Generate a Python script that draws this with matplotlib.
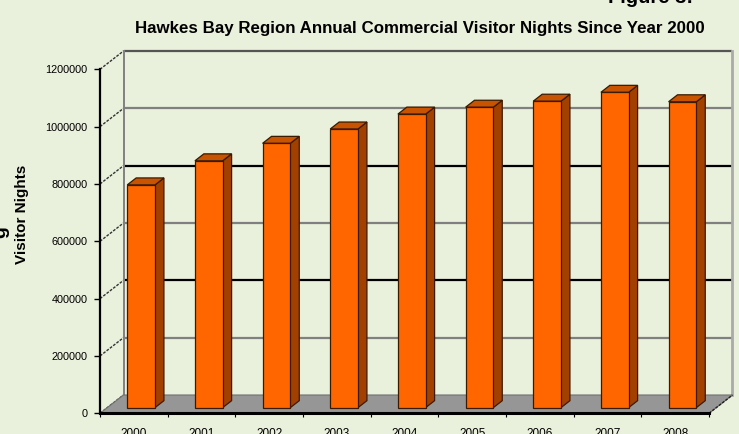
import matplotlib
matplotlib.use("Agg")
import matplotlib.pyplot as plt
from matplotlib.patches import Polygon
import numpy as np

plt.rcParams['font.family'] = ['Liberation Sans', 'DejaVu Sans']

# Annual commercial visitor nights, Hawkes Bay region
years = ['2000', '2001', '2002', '2003', '2004', '2005', '2006', '2007', '2008']
visitor_nights = [777000, 861000, 922000, 972000, 1024000, 1048000, 1069000, 1100000, 1067000]
y_ticks = [0, 200000, 400000, 600000, 800000, 1000000, 1200000]

BG = '#E9F0DB'
FRONT = '#FF6600'
TOP = '#C85300'
SIDE = '#A34000'
EDGE = '#3A1A00'

W, H = 739, 434
fig = plt.figure(figsize=(W / 100, H / 100), dpi=100, facecolor=BG)

# front plane of the 3-D box, in pixels
left_px, right_px, bottom_px, top_px = 100, 709, 413.3, 69.3
ax = fig.add_axes([left_px / W, 1 - bottom_px / H,
                   (right_px - left_px) / W, (bottom_px - top_px) / H])
ax.set_facecolor('none')
n = len(years)
ymax = y_ticks[-1]
ax.set_xlim(0, n)
ax.set_ylim(0, ymax)

# depth of the box in data units (oblique projection)
px_per_cat = (right_px - left_px) / n
px_per_val = (bottom_px - top_px) / ymax
DX = 23.5 / px_per_cat
DY = 18.3 / px_per_val

# back wall
ax.add_patch(Polygon([(DX, DY), (n + DX, DY), (n + DX, ymax + DY), (DX, ymax + DY)],
                     closed=True, facecolor=BG, edgecolor='none', clip_on=False, zorder=0))
# gridlines on the back wall and the left wall
for i, v in enumerate(y_ticks[1:]):
    c = '#808080' if i % 2 == 0 else '#000000'
    if v == ymax:
        c = '#555555'
    ax.plot([DX, n + DX], [v + DY, v + DY], color=c, lw=1.6, clip_on=False, zorder=1,
            solid_capstyle='butt')
for v in y_ticks:
    ax.plot([0, DX], [v, v + DY], color='#333333', lw=1.0, ls=(0, (2, 1)),
            clip_on=False, zorder=1)
# back edges of the walls
ax.plot([DX, DX], [DY, ymax + DY], color='#808080', lw=1.4, clip_on=False, zorder=1)
ax.plot([n + DX, n + DX], [DY, ymax + DY], color='#AAAAAA', lw=2.0, clip_on=False, zorder=1)

# floor
ax.add_patch(Polygon([(0, 0), (n, 0), (n + DX, DY), (DX, DY)], closed=True,
                     facecolor='#969696', edgecolor='#707070', lw=0.8,
                     clip_on=False, zorder=2))
ax.plot([n, n + DX], [0, DY], color='#222222', lw=1.0, ls=(0, (2, 1)),
        clip_on=False, zorder=2)

# bars: front face placed part-way into the depth, then top and side faces
f0, fd = 0.31, 0.38
bw = 0.41
xc = np.arange(n) + 0.5 + f0 * DX
bars = ax.bar(xc, visitor_nights, width=bw, bottom=f0 * DY, color=FRONT,
              edgecolor=EDGE, linewidth=0.9, zorder=4, clip_on=False)
ddx, ddy = fd * DX, fd * DY
for b in bars:
    x0 = b.get_x()
    x1 = x0 + b.get_width()
    y0 = b.get_y()
    y1 = y0 + b.get_height()
    ax.add_patch(Polygon([(x1, y0), (x1 + ddx, y0 + ddy), (x1 + ddx, y1 + ddy), (x1, y1)],
                         closed=True, facecolor=SIDE, edgecolor=EDGE, lw=0.9,
                         clip_on=False, zorder=3))
    ax.add_patch(Polygon([(x0, y1), (x1, y1), (x1 + ddx, y1 + ddy), (x0 + ddx, y1 + ddy)],
                         closed=True, facecolor=TOP, edgecolor=EDGE, lw=0.9,
                         clip_on=False, zorder=3))

# front axes
for s in ['top', 'right']:
    ax.spines[s].set_visible(False)
ax.spines['left'].set_linewidth(1.6)
ax.spines['bottom'].set_linewidth(2.2)
ax.spines['left'].set_zorder(5)
ax.spines['bottom'].set_zorder(5)

ax.set_yticks(y_ticks)
ax.set_yticklabels([str(v) for v in y_ticks])
ax.tick_params(axis='y', direction='out', length=4, width=1, pad=5, labelsize=7.8)

ax.set_xticks(np.arange(n + 1))
ax.set_xticklabels([])
ax.tick_params(axis='x', which='major', direction='out', length=3, width=0.8)
ax.set_xticks(np.arange(n) + 0.5, minor=True)
ax.set_xticklabels(years, minor=True)
ax.tick_params(axis='x', which='minor', length=0, pad=10.5, labelsize=8.5)

fig.text(22 / W, 1 - 214 / H, 'Visitor Nights', rotation=90, ha='center', va='center',
         fontsize=11, fontweight='bold')
# partly visible label at the left edge
fig.text(9 / W, 1 - 232 / H, 'g', rotation=90, ha='right', va='center',
         fontsize=14, fontweight='bold')

fig.text(420 / W, 1 - 28 / H,
         'Hawkes Bay Region Annual Commercial Visitor Nights Since Year 2000',
         ha='center', va='center', fontsize=12.2, fontweight='bold')
fig.text(608 / W, 1 - 3 / H, 'Figure 3:', ha='left', va='baseline',
         fontsize=14.5, fontweight='bold')

fig.savefig('out.png', dpi=100, facecolor=BG)
